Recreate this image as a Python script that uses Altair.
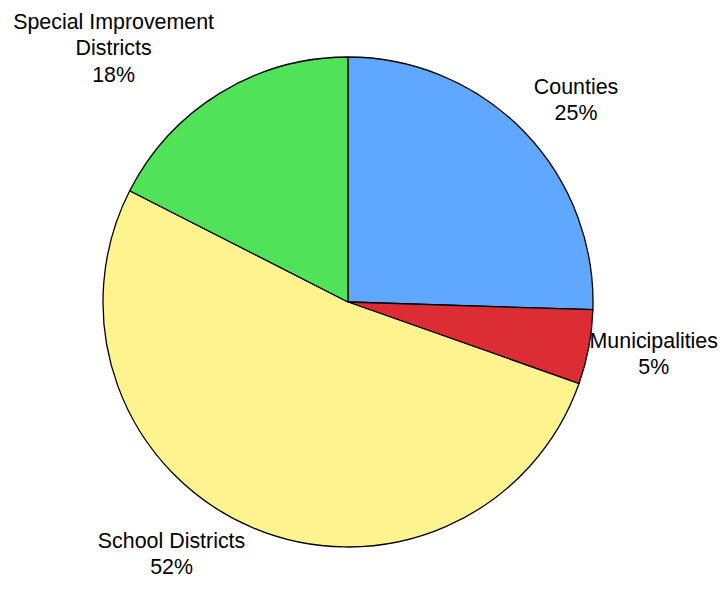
import altair as alt
import pandas as pd

categories = ["Counties", "Municipalities", "School Districts", "Special Improvement Districts"]
values = [25.5, 4.9, 52.1, 17.5]
label_lines = [["Counties", "25%"], ["Municipalities", "5%"], ["School Districts", "52%"],
               ["Special Improvement", "Districts", "18%"]]
colors = ["#60A8FF", "#DC2D35", "#FFF38F", "#50E35A"]

df = pd.DataFrame({
    "category": categories,
    "value": values,
    "order": list(range(len(categories))),
    "label": label_lines,
})

W, H = 711, 573
cx, cy = 340, 294
R = 245
FS = 21.4
LH = 26.5
ANCHOR_R = 260


def count_expr(s, cls):
    return f"length(replace({s}, regexp('[^{cls}]', 'g'), ''))"


def width_expr(idx):
    s = f"(datum.label[{idx}] || '')"
    narrow = count_expr(s, "iltjfrI ")
    wide = count_expr(s, "mwMW")
    caps = count_expr(s, "A-HJ-LN-VX-Z")
    total = f"length({s})"
    return (f"{FS} * (0.26*{narrow} + 0.83*{wide} + 0.69*{caps} + "
            f"0.53*({total} - {narrow} - {wide} - {caps}))")


base = alt.Chart(df)

arcs = base.mark_arc(outerRadius=R, stroke="black", strokeWidth=1.3).encode(
    theta=alt.Theta("value:Q", stack=True),
    order=alt.Order("order:Q"),
    color=alt.Color("category:N", scale=alt.Scale(domain=categories, range=colors), legend=None),
    x=alt.value(cx), y=alt.value(cy),
)

labels = base.transform_joinaggregate(
    total="sum(value)"
).transform_window(
    cum="sum(value)", sort=[alt.SortField("order")], frame=[None, 0]
).transform_calculate(
    a="2*PI*(datum.cum - datum.value/2)/datum.total",
    n="length(datum.label)",
).transform_calculate(
    w=f"max({width_expr(0)}, {width_expr(1)}, {width_expr(2)})",
    h=f"(datum.n - 1) * {LH} + 0.716 * {FS}",
    ax=f"{ANCHOR_R} * sin(datum.a)",
    ay=f"-{ANCHOR_R} * cos(datum.a)",
).transform_calculate(
    bx0="datum.ax + (sin(datum.a) >= 0 ? 1 : -1) * datum.w / 2",
    by0="cos(datum.a) > 0.3 ? datum.ay - datum.h/2 : (cos(datum.a) < -0.3 ? datum.ay + datum.h/2 : datum.ay - cos(datum.a) * datum.h/2)",
).transform_calculate(
    bx=f"clamp(datum.bx0, -{cx} + datum.w/2 + 1, {W - cx} - datum.w/2)",
    by=f"clamp(datum.by0, -{cy} + datum.h/2 + 6, {H - cy} - datum.h/2 - 6)",
).transform_calculate(
    fy=f"datum.by - (datum.n - 1) * {LH} / 2 + 1",
).transform_calculate(
    lr="sqrt(datum.bx*datum.bx + datum.fy*datum.fy)",
    la="(atan2(datum.bx, -datum.fy) + 2*PI) % (2*PI)",
).mark_text(fontSize=FS, lineHeight=LH, font="Liberation Sans",
            align="center", baseline="middle", color="black").encode(
    theta=alt.Theta("la:Q", scale=alt.Scale(domain=[0, 6.283185307], range=[0, 6.283185307])),
    radius=alt.Radius("lr:Q", scale=alt.Scale(type="linear", domain=[0, 500], range=[0, 500], zero=True)),
    text="label",
    x=alt.value(cx), y=alt.value(cy),
)

chart = (arcs + labels).resolve_scale(
    theta="independent", radius="independent"
).properties(
    width=W, height=H, padding=0, autosize=alt.AutoSizeParams(type="none")
).configure_view(stroke=None)

chart.save("out.html", embed_options={"renderer": "svg", "actions": False})
